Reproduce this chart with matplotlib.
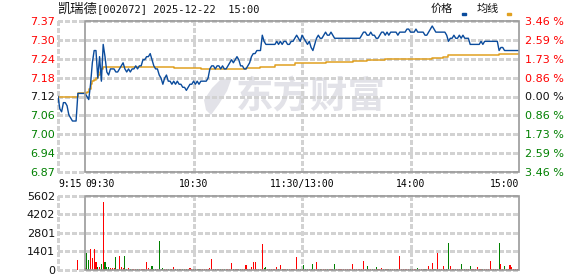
import numpy as np
import matplotlib
matplotlib.use('Agg')
import matplotlib.pyplot as plt
from matplotlib.patches import Rectangle, Polygon
from matplotlib.collections import LineCollection

# ---- data ----
PREV_CLOSE = 7.12

# call auction 9:15 .. 9:29 (minutes before 9:30)
PRE_MIN = [-15, -14, -13, -12, -11, -10, -9, -8, -7, -6, -5, -4, -3, -2, -1]
PRE_PRICE = [7.12, 7.08, 7.07, 7.10, 7.10, 7.09, 7.06, 7.05, 7.04, 7.04,
             7.04, 7.13, 7.13, 7.13, 7.13]
PRE_VOL = [0, 0, 0, 0, 0, 0, 0, 0, 0, 0, 0, 760, 0, 0, 0]

# 9:30 .. 11:30 / 13:00 .. 15:00, one value per minute
PRICE = [
    7.13, 7.12, 7.11, 7.16, 7.23, 7.27, 7.27, 7.18, 7.25, 7.17,
    7.29, 7.25, 7.20, 7.19, 7.21, 7.21, 7.21, 7.20, 7.20, 7.21,
    7.22, 7.23, 7.21, 7.20, 7.21, 7.20, 7.21, 7.21, 7.22, 7.21,
    7.22, 7.22, 7.24, 7.24, 7.25, 7.25, 7.26, 7.24, 7.22, 7.21,
    7.21, 7.19, 7.18, 7.16, 7.18, 7.19, 7.17, 7.17, 7.16, 7.17,
    7.16, 7.17, 7.16, 7.16, 7.15, 7.15, 7.14, 7.15, 7.16, 7.16,
    7.17, 7.16, 7.17, 7.16, 7.17, 7.17, 7.17, 7.17, 7.18, 7.21,
    7.22, 7.22, 7.21, 7.22, 7.22, 7.21, 7.22, 7.21, 7.21, 7.22,
    7.23, 7.24, 7.23, 7.24, 7.25, 7.24, 7.22, 7.22, 7.21, 7.21,
    7.22, 7.23, 7.25, 7.26, 7.26, 7.27, 7.27, 7.27, 7.32, 7.30,
    7.29, 7.29, 7.29, 7.29, 7.29, 7.29, 7.30, 7.29, 7.30, 7.29,
    7.30, 7.30, 7.29, 7.29, 7.30, 7.30, 7.31, 7.32, 7.31, 7.30,
    7.32, 7.31, 7.30, 7.29, 7.30, 7.28, 7.27, 7.29, 7.31, 7.32,
    7.31, 7.31, 7.32, 7.33, 7.32, 7.32, 7.33, 7.32, 7.31, 7.31,
    7.31, 7.31, 7.31, 7.31, 7.31, 7.31, 7.31, 7.31, 7.31, 7.31,
    7.31, 7.31, 7.31, 7.32, 7.33, 7.33, 7.32, 7.32, 7.33, 7.32,
    7.32, 7.31, 7.31, 7.32, 7.33, 7.33, 7.32, 7.33, 7.32, 7.33,
    7.33, 7.33, 7.33, 7.32, 7.33, 7.33, 7.33, 7.33, 7.34, 7.34,
    7.33, 7.33, 7.33, 7.34, 7.33, 7.33, 7.33, 7.33, 7.32, 7.32,
    7.33, 7.34, 7.35, 7.34, 7.33, 7.33, 7.33, 7.33, 7.33, 7.33,
    7.32, 7.30, 7.31, 7.31, 7.32, 7.31, 7.31, 7.32, 7.31, 7.32,
    7.31, 7.31, 7.31, 7.29, 7.29, 7.29, 7.29, 7.29, 7.29, 7.30,
    7.29, 7.30, 7.30, 7.30, 7.30, 7.30, 7.30, 7.30, 7.30, 7.27,
    7.28, 7.28, 7.27, 7.27, 7.27, 7.27, 7.27, 7.27, 7.27, 7.27,
    7.27,
]

VOLUME = [
    120, 1267, 760, 1572, 887, 1572, 608, 253, 200, 450,
    5171, 608, 250, 250, 150, 120, 150, 990, 80, 1090,
    230, 120, 1065, 50, 150, 60, 80, 60, 90, 70,
    60, 80, 70, 90, 608, 120, 80, 300, 90, 60,
    80, 2230, 100, 150, 60, 70, 90, 60, 80, 250,
    70, 60, 80, 60, 70, 90, 60, 70, 180, 60,
    80, 60, 70, 60, 90, 60, 70, 80, 60, 150,
    836, 70, 60, 80, 60, 90, 60, 70, 60, 80,
    90, 532, 70, 60, 80, 60, 90, 60, 70, 380,
    80, 60, 250, 608, 608, 90, 70, 80, 1977, 150,
    230, 70, 60, 80, 60, 70, 230, 60, 380, 80,
    60, 70, 90, 60, 80, 60, 70, 1014, 60, 80,
    100, 355, 60, 80, 70, 90, 456, 60, 583, 80,
    70, 60, 90, 80, 70, 60, 80, 60, 456, 70,
    60, 80, 70, 60, 90, 60, 70, 80, 456, 60,
    70, 60, 80, 90, 684, 60, 304, 70, 60, 80,
    70, 228, 90, 60, 150, 70, 60, 80, 60, 70,
    90, 60, 80, 70, 1064, 60, 80, 70, 60, 90,
    60, 80, 70, 60, 150, 90, 60, 80, 70, 60,
    304, 80, 507, 70, 60, 1267, 90, 80, 300, 70,
    60, 2028, 330, 80, 70, 60, 90, 80, 456, 70,
    60, 80, 70, 300, 90, 60, 80, 228, 70, 60,
    80, 70, 60, 90, 684, 80, 70, 60, 90, 2028,
    456, 80, 300, 70, 60, 380, 250, 80, 70, 60,
    100,
]

# average price line, value from each minute on
AVG_MIN = [-15, -4, 1, 2, 3, 4, 5, 6, 7, 8, 9, 10, 49, 64, 89, 97, 105,
           116, 133, 148, 156, 166, 192, 198, 201, 229, 240]
AVG_VAL = [7.12, 7.13, 7.135, 7.145, 7.16, 7.17, 7.175, 7.18, 7.19, 7.20,
           7.21, 7.215, 7.212, 7.209, 7.212, 7.217, 7.223, 7.228, 7.232,
           7.236, 7.239, 7.242, 7.247, 7.25, 7.254, 7.258, 7.258]

PRICE_LABELS = ['6.87', '6.94', '7.00', '7.06', '7.12', '7.18', '7.24', '7.30', '7.37']
PCT_LABELS = ['3.46 %', '2.59 %', '1.73 %', '0.86 %', '0.00 %',
              '0.86 %', '1.73 %', '2.59 %', '3.46 %']
VOL_TICKS = [0, 1401, 2801, 4202, 5602]
TIME_TICKS = [-15, 0, 60, 120, 180, 240]
TIME_LABELS = ['9:15', '09:30', '10:30', '11:30/13:00', '14:00', '15:00']
TIME_HA = ['left', 'left', 'center', 'center', 'center', 'right']
GRID_X = [-15, 60, 120, 180]

RED = '#ff0000'
GREEN = '#008000'
BLUE = '#0a4b9c'
GOLD = '#e0a020'
GRID = '#d2d2d2'
FRAME = '#999999'

W, H = 578, 276


def box(x0, y0, x1, y1):
    return [x0 / W, 1 - y1 / H, (x1 - x0) / W, (y1 - y0) / H]


def frame(a, ticks, w_px, h_px):
    for s in a.spines.values():
        s.set_visible(False)
    ylo, yhi = ticks[0], ticks[-1]
    a.add_patch(Rectangle((0, ylo), 240, yhi - ylo, fill=False,
                          edgecolor=FRAME, lw=1.2, zorder=5, clip_on=False))
    # dashed grid: 4 px dash, 3 px gap
    hs = np.arange(0, 1, 7 / w_px)
    segs = [[(s, t), (min(s + 4 / w_px, 1), t)] for t in ticks for s in hs]
    a.add_collection(LineCollection(segs, colors=GRID, linewidths=0.75,
                                    antialiased=False, zorder=2, clip_on=False,
                                    transform=a.get_yaxis_transform()))
    vs = np.arange(0, 1, 7 / h_px)
    segs = [[(x, s), (x, min(s + 4 / h_px, 1))] for x in GRID_X for s in vs]
    a.add_collection(LineCollection(segs, colors=GRID, linewidths=0.75,
                                    antialiased=False, zorder=2, clip_on=False,
                                    transform=a.get_xaxis_transform()))


fig = plt.figure(figsize=(W / 100, H / 100), dpi=100)

# ---- price panel ----
ax = fig.add_axes(box(58, 21, 519, 172))
step = 0.00865
ticks = [PREV_CLOSE * (1 + k * step) for k in range(-4, 5)]
ylo, yhi = ticks[0], ticks[-1]
frame(ax, ticks, 461, 151)
ax.set_xlim(-15, 240)
ax.set_ylim(ylo, yhi)

lab_colors = [GREEN] * 4 + ['#111111'] + [RED] * 4
ax.set_yticks(ticks)
ax.set_yticklabels(PRICE_LABELS, fontsize=8, family='DejaVu Sans')
for lab, c in zip(ax.get_yticklabels(), lab_colors):
    lab.set_color(c)
ax.tick_params(axis='y', length=0, pad=2)

ax.set_xticks(TIME_TICKS)
ax.set_xticklabels(TIME_LABELS, fontsize=7, family='DejaVu Sans Mono')
for lab, ha in zip(ax.get_xticklabels(), TIME_HA):
    lab.set_ha(ha)
ax.tick_params(axis='x', length=0, pad=5)

axr = ax.twinx()
axr.set_ylim(ylo, yhi)
for s in axr.spines.values():
    s.set_visible(False)
axr.set_yticks(ticks)
axr.set_yticklabels(PCT_LABELS[::-1], fontsize=8, family='DejaVu Sans')
for lab, c in zip(axr.get_yticklabels(), lab_colors):
    lab.set_color(c)
axr.tick_params(axis='y', length=0, pad=4)

all_min = PRE_MIN + list(range(len(PRICE)))
all_price = PRE_PRICE + PRICE
ax.plot(all_min, all_price, color=BLUE, lw=1.0, zorder=4)
ax.plot(AVG_MIN, AVG_VAL, color=GOLD, lw=1.1, drawstyle='steps-post', zorder=3)

# watermark
ax.text(0.548, 0.50, '东方财富', transform=ax.transAxes, ha='center', va='center',
        fontsize=27, fontweight='bold', color='#e2e2e8',
        family='Noto Sans CJK SC', zorder=0)
logo = [(222, 78), (231, 80), (227, 91), (219, 104), (211, 115),
        (206, 110), (204, 100), (212, 88)]
ax.add_patch(Polygon([(x / W, 1 - y / H) for x, y in logo], closed=True,
                     transform=fig.transFigure, facecolor='#e2e2e8',
                     edgecolor='none', zorder=0))

# ---- volume panel ----
axv = fig.add_axes(box(58, 196, 519, 270))
frame(axv, VOL_TICKS, 461, 74)
axv.set_xlim(-15, 240)
axv.set_ylim(0, VOL_TICKS[-1])
axv.set_yticks(VOL_TICKS)
axv.set_yticklabels([str(v) for v in VOL_TICKS], fontsize=8,
                    family='DejaVu Sans', color='#111111')
axv.tick_params(axis='y', length=0, pad=2)
axv.set_xticks([])

all_vol = PRE_VOL + VOLUME
bar_colors = []
prev = PRE_PRICE[0]
for p in all_price:
    bar_colors.append(RED if p >= prev else GREEN)
    prev = p
axv.bar(all_min, all_vol, width=0.6, color=bar_colors, linewidth=0,
        antialiased=False, zorder=3)

# ---- title and legend ----
fig.text(58 / W, 1 - 9 / H, '凯瑞德', fontsize=9.5, family='Noto Sans CJK SC',
         va='center', ha='left', color='#111111')
fig.text(97 / W, 1 - 9 / H, '[002072] 2025-12-22  15:00', fontsize=7.5,
         family='DejaVu Sans Mono', va='center', ha='left', color='#111111')
fig.text(431 / W, 1 - 9 / H, '价格', fontsize=8, family='Noto Sans CJK SC',
         va='center', ha='left', color='#111111')
fig.text(477 / W, 1 - 9 / H, '均线', fontsize=8, family='Noto Sans CJK SC',
         va='center', ha='left', color='#111111')
fig.patches.append(Rectangle((462 / W, 1 - 15 / H), 4 / W, 2 / H,
                             transform=fig.transFigure, color=BLUE))
fig.patches.append(Rectangle((507 / W, 1 - 15 / H), 4 / W, 2 / H,
                             transform=fig.transFigure, color=GOLD))

fig.savefig('out.png', dpi=100)
